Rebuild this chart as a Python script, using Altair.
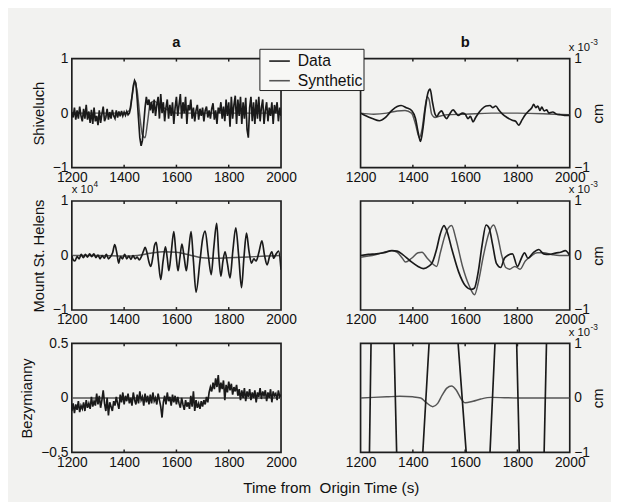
import altair as alt
import pandas as pd

FONT = "Liberation Sans"
INK = "#1e1e1e"
BG = "#f2f2f0"

# ---------------- time grid for the dense (noisy) traces: 5 s step ----------------
T5 = list(range(1200, 2001, 5))

# ---------------- panel a: Shiveluch ----------------
shiv_data = [
    0.02, -0.08, 0.10, -0.12, 0.05, -0.10, 0.12, -0.05, -0.15, 0.08,   # 1200-1245
    -0.10, 0.15, -0.12, 0.03, -0.18, 0.06, -0.20, 0.10, -0.15, -0.05,  # 1250-1295
    -0.22, 0.05, -0.18, -0.02, 0.12, -0.15, -0.08, 0.08, -0.12, 0.02,  # 1300-1345
    -0.10, 0.06, -0.05, -0.10, 0.05, -0.08, 0.03, -0.06, 0.04, -0.05,  # 1350-1395
    0.02, -0.04, 0.03, -0.03, 0.00, 0.10, 0.30, 0.50, 0.60, 0.55,      # 1400-1445
    0.25, -0.10, -0.45, -0.60, -0.50, -0.20, 0.10, 0.30, 0.15, 0.25,   # 1450-1495
    0.05, 0.20, 0.00, 0.25, -0.05, 0.15, 0.30, -0.10, 0.35, 0.00,      # 1500-1545
    0.20, -0.15, 0.10, 0.25, -0.10, 0.15, -0.05, 0.20, -0.20, 0.10,    # 1550-1595
    0.30, -0.05, 0.15, 0.35, -0.10, 0.20, 0.00, 0.30, -0.20, 0.15,     # 1600-1645
    0.05, 0.25, -0.10, 0.10, -0.15, 0.05, 0.15, -0.12, 0.08, -0.05,    # 1650-1695
    0.10, -0.15, 0.05, 0.12, -0.08, 0.05, -0.10, 0.08, 0.18, -0.12,    # 1700-1745
    0.05, -0.20, 0.10, 0.00, 0.20, -0.10, 0.12, -0.15, 0.25, -0.05,    # 1750-1795
    0.20, -0.25, 0.30, -0.10, 0.15, 0.32, -0.20, 0.25, -0.05, 0.30,    # 1800-1845
    -0.20, 0.20, -0.10, 0.28, -0.30, -0.45, 0.10, 0.30, -0.15, 0.20,   # 1850-1895
    -0.20, 0.25, -0.10, 0.30, -0.15, 0.10, 0.25, -0.20, 0.05, 0.20,    # 1900-1945
    -0.15, 0.10, -0.05, 0.20, -0.20, 0.15, 0.00, 0.20, -0.15, 0.10,    # 1950-1995
    -0.05,                                                             # 2000
]
shiv_syn_t = [1200, 1300, 1400, 1420, 1430, 1440, 1450, 1460, 1470, 1480, 1490,
              1500, 1515, 1530, 1550, 1575, 1600, 1700, 1800, 1900, 2000]
shiv_syn_v = [0.0, 0.0, 0.0, 0.05, 0.30, 0.55, 0.40, -0.05, -0.40, -0.45, -0.15,
              0.18, 0.22, 0.17, 0.10, 0.04, 0.0, 0.0, 0.0, 0.0, 0.0]

# ---------------- panel a: Mount St. Helens (x 10^4) ----------------
msh_data_t = [1200, 1205, 1212, 1220, 1228, 1236, 1244, 1252, 1260, 1268, 1276, 1284, 1292,
              1300, 1308, 1316, 1324, 1332, 1340, 1348, 1356, 1364, 1372, 1379, 1386, 1394,
              1402, 1410, 1418, 1426, 1434, 1442, 1450, 1458, 1466, 1474, 1480, 1487, 1495,
              1502, 1510, 1516, 1523, 1531, 1540, 1549, 1558, 1565, 1571, 1580, 1590, 1598,
              1606, 1613, 1621, 1630, 1638, 1647, 1656, 1665, 1675, 1690, 1700, 1710, 1722,
              1733, 1743, 1754, 1762, 1770, 1778, 1786, 1795, 1805, 1816, 1827, 1838, 1849,
              1858, 1868, 1877, 1887, 1896, 1905, 1915, 1927, 1937, 1947, 1956, 1965, 1972,
              1980, 1991, 2000]
msh_data_v = [0.0, -0.08, -0.10, -0.02, -0.06, 0.02, -0.04, 0.02, -0.03, 0.03, -0.02, 0.03, -0.04,
              0.01, -0.06, 0.0, -0.05, 0.02, -0.06, -0.02, 0.05, 0.20, 0.05, -0.14, -0.02, -0.06,
              0.02, -0.06, -0.01, -0.07, 0.0, -0.06, -0.03, -0.08, -0.02, 0.08, 0.15, 0.06, -0.12,
              -0.20, -0.02, 0.18, 0.24, -0.10, -0.44, -0.10, 0.16, -0.05, -0.28, 0.05, 0.44, 0.05,
              -0.28, -0.05, 0.21, -0.05, -0.28, 0.10, 0.44, -0.10, -0.67, -0.10, 0.30, 0.45, 0.0,
              -0.35, 0.15, 0.59, 0.0, -0.38, -0.10, 0.07, -0.15, -0.41, 0.10, 0.51, 0.0, -0.59,
              -0.05, 0.41, 0.10, -0.14, -0.06, -0.10, 0.05, 0.27, 0.0, -0.17, -0.02, 0.07, -0.05,
              0.02, 0.08, -0.26]
msh_syn_t = [1200, 1300, 1400, 1450, 1500, 1550, 1600, 1650, 1700, 1750, 1800, 1850, 1900, 1950, 2000]
msh_syn_v = [0.0, 0.0, -0.01, 0.0, 0.04, 0.07, 0.06, 0.01, -0.04, -0.05, -0.04, -0.03, -0.02, -0.01, 0.0]

# ---------------- panel a: Bezymianny ----------------
bez_data = [
    -0.12, -0.05, -0.14, -0.06, -0.11, -0.03, -0.13, -0.07, -0.10, -0.04,  # 1200-1245
    -0.12, -0.02, -0.09, -0.05, -0.10, 0.01, -0.08, -0.03, -0.07, 0.04,    # 1250-1295
    -0.06, 0.02, -0.09, -0.02, 0.07, -0.05, -0.12, 0.00, -0.16, -0.04,     # 1300-1345
    -0.08, -0.12, -0.03, -0.07, 0.01, -0.05, -0.10, 0.03, -0.04, 0.05,     # 1350-1395
    -0.06, 0.02, -0.03, 0.04, -0.05, 0.00, -0.07, 0.05, -0.02, -0.06,      # 1400-1445
    0.03, -0.05, 0.06, -0.02, 0.01, -0.07, 0.04, -0.04, 0.02, -0.06,       # 1450-1495
    0.03, -0.05, 0.05, -0.03, 0.00, -0.06, 0.04, -0.02, -0.08, -0.18,      # 1500-1545
    -0.04, 0.02, -0.06, 0.05, -0.03, 0.01, -0.07, 0.03, -0.04, 0.02,       # 1550-1595
    -0.06, 0.01, -0.05, -0.09, 0.00, -0.06, -0.11, -0.02, -0.08, -0.04,    # 1600-1645
    -0.10, 0.02, -0.08, 0.06, -0.12, -0.02, -0.09, -0.05, -0.10, -0.03,    # 1650-1695
    -0.08, -0.02, -0.06, 0.01, -0.04, 0.05, 0.10, 0.06, 0.14, 0.08,        # 1700-1745
    0.18, 0.10, 0.21, 0.05, 0.14, 0.08, 0.16, -0.02, 0.12, 0.05,           # 1750-1795
    0.15, 0.07, 0.13, 0.03, 0.10, 0.06, 0.12, 0.02, 0.08, -0.02,           # 1800-1845
    0.07, 0.00, 0.09, -0.03, 0.06, 0.01, 0.08, -0.02, 0.05, 0.00,          # 1850-1895
    0.07, -0.04, 0.05, 0.01, 0.09, -0.01, 0.06, 0.02, 0.07, -0.03,         # 1900-1945
    0.05, 0.00, 0.08, -0.04, 0.06, 0.02, 0.04, -0.02, 0.07, 0.01,          # 1950-1995
    0.03,                                                                  # 2000
]
bez_syn_t = [1200, 1500, 1750, 2000]
bez_syn_v = [0.0, 0.0, 0.0, 0.0]

# ---------------- panel b: displacement (x 10^-3 cm) ----------------
shivd_data_t = [1200, 1220, 1245, 1272, 1295, 1320, 1340, 1355, 1375, 1397, 1410, 1420, 1429, 1438,
                1448, 1458, 1466, 1475, 1485, 1492, 1500, 1510, 1520, 1529, 1540, 1554, 1565, 1573,
                1590, 1600, 1611, 1620, 1630, 1640, 1648, 1665, 1680, 1695, 1705, 1717, 1730, 1743,
                1760, 1780, 1793, 1805, 1818, 1830, 1845, 1855, 1862, 1870, 1878, 1886, 1893, 1902,
                1912, 1920, 1935, 1950, 1965, 1980, 2000]
shivd_data_v = [0.0, -0.05, -0.10, -0.14, -0.08, 0.05, 0.12, 0.14, 0.10, 0.04, -0.10, -0.35, -0.52, -0.30,
                0.10, 0.38, 0.44, 0.20, -0.02, -0.06, 0.0, 0.04, -0.05, -0.10, -0.02, 0.06, 0.0, -0.04,
                0.0, -0.02, -0.10, -0.06, -0.16, -0.08, -0.02, 0.08, 0.13, 0.14, 0.10, 0.13, 0.05, -0.02,
                -0.08, -0.13, -0.15, -0.22, -0.12, -0.03, 0.05, 0.10, 0.16, 0.10, 0.13, 0.05, 0.11, 0.04,
                0.06, 0.0, 0.02, -0.02, -0.03, -0.04, -0.04]
shivd_syn_t = [1200, 1250, 1300, 1340, 1370, 1395, 1410, 1425, 1435, 1445, 1455, 1462, 1472, 1485,
               1500, 1530, 1600, 1700, 1800, 1900, 2000]
shivd_syn_v = [0.0, -0.02, 0.0, 0.04, 0.05, 0.0, -0.20, -0.45, -0.30, 0.05, 0.30, 0.25, -0.02, -0.08,
               -0.06, -0.03, -0.02, 0.0, 0.0, -0.01, -0.03]

mshd_data_t = [1200, 1230, 1260, 1290, 1320, 1340, 1360, 1390, 1420, 1441, 1460, 1475, 1490, 1505,
               1519, 1530, 1550, 1575, 1600, 1623, 1635, 1650, 1665, 1680, 1692, 1705, 1720, 1736,
               1750, 1762, 1781, 1800, 1815, 1827, 1840, 1860, 1882, 1900, 1920, 1950, 1965, 1983, 2000]
mshd_data_v = [0.0, 0.02, 0.03, 0.05, 0.09, 0.08, 0.02, -0.10, -0.20, -0.24, -0.20, -0.12, 0.10, 0.40,
               0.55, 0.45, 0.10, -0.30, -0.55, -0.62, -0.60, -0.30, 0.20, 0.56, 0.50, 0.20, -0.15, -0.22,
               -0.05, 0.0, 0.03, -0.20, -0.05, 0.05, -0.05, 0.05, 0.11, 0.03, 0.02, 0.05, 0.06, 0.09, 0.0]
mshd_syn_t = [1200, 1230, 1260, 1290, 1320, 1340, 1360, 1372, 1395, 1420, 1435, 1455, 1475, 1491,
              1505, 1525, 1548, 1565, 1590, 1615, 1636, 1650, 1670, 1690, 1709, 1722, 1740, 1755,
              1770, 1790, 1810, 1830, 1850, 1875, 1900, 1930, 1960, 2000]
mshd_syn_v = [-0.03, -0.01, 0.02, 0.06, 0.09, 0.06, -0.05, -0.12, -0.05, 0.05, 0.06, -0.05, -0.15, -0.20,
              0.05, 0.40, 0.55, 0.30, -0.20, -0.55, -0.72, -0.50, 0.0, 0.40, 0.56, 0.40, 0.0, -0.22,
              -0.25, -0.20, -0.25, -0.10, -0.02, 0.05, 0.05, 0.02, 0.0, 0.0]

bezd_data_t = [1200, 1234, 1240, 1284, 1328, 1338, 1388, 1438, 1462, 1518, 1573, 1604,
               1650, 1695, 1714, 1755, 1797, 1807, 1855, 1902, 1911, 1955, 2000]
bezd_data_v = [-4.0, -1.0, 1.0, 5.0, 1.0, -1.0, -5.0, -1.0, 1.0, 5.0, 1.0, -1.0,
               -5.0, -1.0, 1.0, 5.0, 1.0, -1.0, -5.0, -1.0, 1.0, 5.0, 4.0]
bezd_syn_t = [1200, 1300, 1350, 1400, 1430, 1450, 1476, 1495, 1512, 1530, 1548, 1565, 1585, 1600,
              1630, 1660, 1700, 1800, 1900, 2000]
bezd_syn_v = [0.0, 0.02, 0.03, 0.02, 0.0, -0.08, -0.16, -0.10, 0.05, 0.18, 0.22, 0.15, -0.02, -0.09,
              -0.06, -0.02, 0.01, 0.0, 0.0, 0.0]

X_TICKS = [1200, 1400, 1600, 1800, 2000]
INNER_TICKS = [1400, 1600, 1800]

PANEL_W, PANEL_H = 213, 111


def frame(ts, vs, name):
    return pd.DataFrame({"t": ts, "v": vs, "series": name})


color = alt.Color(
    "series:N",
    scale=alt.Scale(domain=["Data", "Synthetic"], range=["#1a1a1a", "#555555"]),
    legend=alt.Legend(
        title=None, orient="none", legendX=191, legendY=-10, direction="vertical",
        fillColor="#f7f7f5", strokeColor=INK, padding=1, symbolOffset=8,
        symbolType="stroke", symbolSize=441, symbolStrokeWidth=1.6,
        labelFontSize=16, labelFont=FONT, labelColor="#111", labelOffset=7, rowPadding=-4,
    ),
)


def label(text, xval, yval, dx, dy, size, weight="normal", align="left"):
    return alt.Chart(pd.DataFrame({"lab": [text]})).mark_text(
        align=align, baseline="alphabetic", dx=dx, dy=dy, fontSize=size, font=FONT,
        fontWeight=weight, color="#111").encode(
        x=alt.datum(xval), y=alt.datum(yval), text="lab:N")


def panel(data_df, syn_df, data_interp, ydom, yvals, side, ytitle, title=None,
          exp_text=None, exp_sup=None):
    x = alt.X("t:Q", scale=alt.Scale(domain=[1200, 2000], nice=False, zero=False),
              axis=alt.Axis(values=X_TICKS, format="d", title=None, ticks=False, domain=False,
                            grid=False, labelPadding=3, labelFontSize=14, labelColor="#111",
                            labelFont=FONT, labelFlush=False))
    y = alt.Y("v:Q", scale=alt.Scale(domain=ydom, nice=False, zero=False),
              axis=alt.Axis(values=yvals, format="~g", orient=side, title=ytitle, ticks=False,
                            domain=False, grid=False, labelPadding=4, labelFontSize=14,
                            labelColor="#111", labelFont=FONT, titleFont=FONT, titleFontSize=15,
                            titleFontWeight="normal", titleColor="#111", titleAngle=270,
                            titlePadding=6 if side == "left" else 16))
    d = alt.Chart(data_df).mark_line(clip=True, strokeWidth=1.7, interpolate=data_interp).encode(
        x=x, y=y, color=color)
    s = alt.Chart(syn_df).mark_line(clip=True, strokeWidth=1.5, interpolate="monotone").encode(
        x=x, y=y, color=color)
    # small inward tick marks on the top and bottom frame edges
    tick_df = pd.DataFrame({"t": INNER_TICKS})
    top_ticks = alt.Chart(tick_df).mark_rule(color=INK, strokeWidth=1.5).encode(
        x=alt.X("t:Q"), y=alt.value(0), y2=alt.value(3))
    bot_ticks = alt.Chart(tick_df).mark_rule(color=INK, strokeWidth=1.5).encode(
        x=alt.X("t:Q"), y=alt.value(PANEL_H), y2=alt.value(PANEL_H - 3))
    layers = [s, d, top_ticks, bot_ticks]
    if exp_text is not None:
        if side == "right":
            ax, dx1, dx2 = 2000, -1, 21
        else:
            ax, dx1, dx2 = 1200, 0, 22
        layers += [label(exp_text, ax, ydom[1], dx1, -8, 11.5),
                   label(exp_sup, ax, ydom[1], dx2, -14, 8.5)]
    if title:
        layers += [label(title, 1600, ydom[1], 0, -12, 15, weight="bold", align="center")]
    return alt.layer(*layers).properties(width=PANEL_W, height=PANEL_H)


a1 = panel(frame(T5, shiv_data, "Data"), frame(shiv_syn_t, shiv_syn_v, "Synthetic"), "linear",
           [-1, 1], [-1, 0, 1], "left", "Shiveluch", title="a")
b1 = panel(frame(shivd_data_t, shivd_data_v, "Data"), frame(shivd_syn_t, shivd_syn_v, "Synthetic"),
           "monotone", [-1, 1], [-1, 0, 1], "right", "cm", title="b",
           exp_text="x 10", exp_sup="-3")
a2 = panel(frame(msh_data_t, msh_data_v, "Data"), frame(msh_syn_t, msh_syn_v, "Synthetic"),
           "monotone", [-1, 1], [-1, 0, 1], "left", "Mount St. Helens",
           exp_text="x 10", exp_sup="4")
b2 = panel(frame(mshd_data_t, mshd_data_v, "Data"), frame(mshd_syn_t, mshd_syn_v, "Synthetic"),
           "monotone", [-1, 1], [-1, 0, 1], "right", "cm", exp_text="x 10", exp_sup="-3")
a3 = panel(frame(T5, bez_data, "Data"), frame(bez_syn_t, bez_syn_v, "Synthetic"), "linear",
           [-0.5, 0.5], [-0.5, 0, 0.5], "left", "Bezymianny")
b3 = panel(frame(bezd_data_t, bezd_data_v, "Data"), frame(bezd_syn_t, bezd_syn_v, "Synthetic"),
           "linear", [-1, 1], [-1, 0, 1], "right", "cm", exp_text="x 10", exp_sup="-3")

chart = alt.concat(
    a1, b1, a2, b2, a3, b3, columns=2, spacing={"row": 34, "column": 81}, bounds="flush",
).properties(
    title=alt.TitleParams("Time from\u00a0 Origin Time (s)", orient="bottom", anchor="middle",
                          fontSize=15.5, fontWeight="normal", font=FONT, color="#111", offset=11,
                          dx=19),
    padding={"left": 11, "top": 22, "right": 5, "bottom": 5},
).configure(
    background=BG, font=FONT
).configure_view(
    stroke=INK, strokeWidth=1.7
)

chart.save("out.html", embed_options={"renderer": "svg", "actions": False})
